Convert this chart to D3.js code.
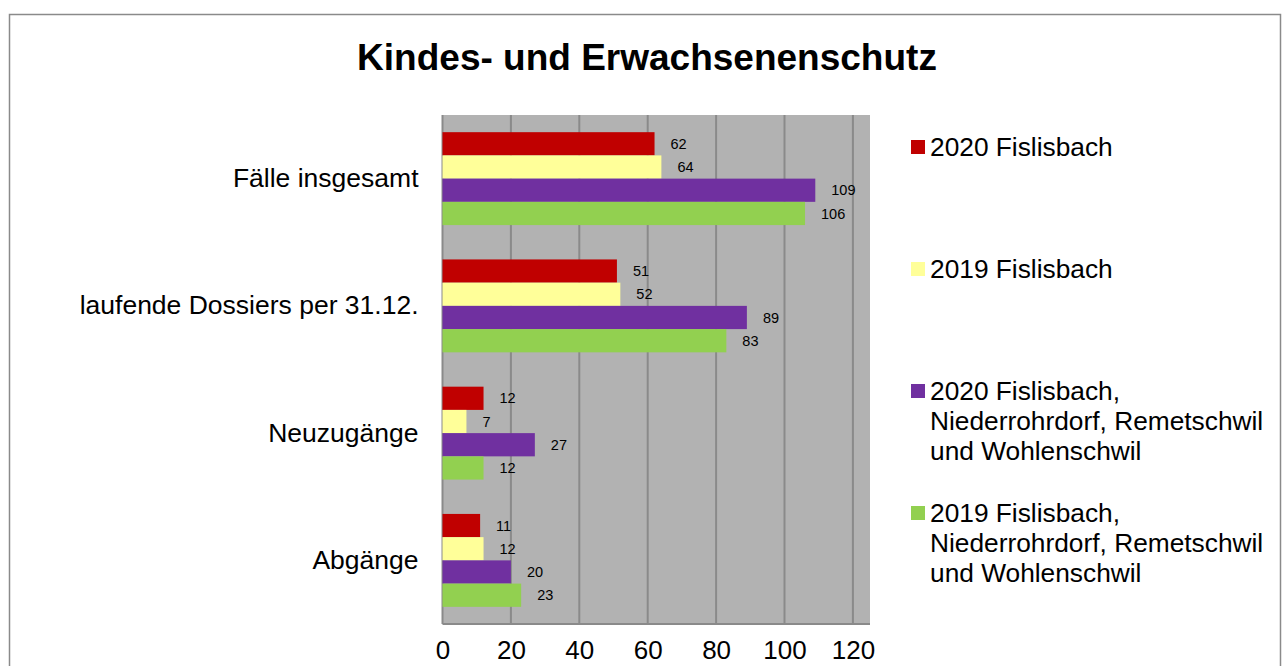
<!DOCTYPE html>
<html>
<head>
<meta charset="utf-8">
<script src="https://cdn.jsdelivr.net/npm/d3@7"></script>
<style>
  body { margin: 0; background: #fff; }
  text { font-family: Arial, "Liberation Sans", sans-serif; }
</style>
</head>
<body>
<div id="chart"></div>
<script>
// data
var categories = ["Fälle insgesamt", "laufende Dossiers per 31.12.", "Neuzugänge", "Abgänge"]
var seriesNames = ["2020 Fislisbach", "2019 Fislisbach",
  "2020 Fislisbach, Niederrohrdorf, Remetschwil und Wohlenschwil",
  "2019 Fislisbach, Niederrohrdorf, Remetschwil und Wohlenschwil"]
var legendLines = [["2020 Fislisbach"], ["2019 Fislisbach"],
  ["2020 Fislisbach,", "Niederrohrdorf, Remetschwil", "und Wohlenschwil"],
  ["2019 Fislisbach,", "Niederrohrdorf, Remetschwil", "und Wohlenschwil"]]
var fis2020 = [62, 51, 12, 11]
var fis2019 = [64, 52, 7, 12]
var all2020 = [109, 89, 27, 20]
var all2019 = [106, 83, 12, 23]
var xTicks = [0, 20, 40, 60, 80, 100, 120]
var colors = ["#c00000", "#ffff99", "#7030a0", "#92d050"]

var series = [fis2020, fis2019, all2020, all2019]

var W = 1284, H = 666
var margin = {top: 115, left: 442.5, right: 414, bottom: 42}
var width = W - margin.left - margin.right
var height = H - margin.top - margin.bottom

var svg = d3.select("#chart").append("svg")
  .attr("width", W).attr("height", H)

// outer frame
svg.append("rect")
  .attr("x", 9.5).attr("y", 14.5)
  .attr("width", 1271).attr("height", 700)
  .attr("fill", "none").attr("stroke", "#8a8a8a").attr("stroke-width", 1.5)

svg.append("text")
  .attr("x", 647).attr("y", 70)
  .attr("text-anchor", "middle")
  .attr("font-size", 37).attr("font-weight", "bold")
  .text("Kindes- und Erwachsenenschutz")

var g = svg.append("g")
  .attr("transform", "translate(" + margin.left + "," + margin.top + ")")

var x = d3.scaleLinear().domain([0, 125]).range([0, width])
var y = d3.scaleBand().domain(categories).range([0, height]).paddingInner(0.27).paddingOuter(0.135)
var ySub = d3.scaleBand().domain(d3.range(series.length)).range([0, y.bandwidth()])

g.append("rect")
  .attr("width", width).attr("height", height)
  .attr("fill", "#b2b2b2")

g.selectAll(".grid")
  .data(xTicks)
  .enter()
  .append("line")
  .attr("x1", function(d) { return x(d) })
  .attr("x2", function(d) { return x(d) })
  .attr("y1", 0).attr("y2", height)
  .attr("stroke", "#8a8a8a").attr("stroke-width", 2)

g.append("line")
  .attr("x1", 0).attr("x2", width)
  .attr("y1", height).attr("y2", height)
  .attr("stroke", "#8a8a8a").attr("stroke-width", 2)

// bars
series.forEach(function(vals, si) {
  var data = categories.map(function(c, i) { return {cat: c, value: vals[i]} })
  g.selectAll(".bar" + si)
    .data(data)
    .enter()
    .append("rect")
    .attr("x", x(0))
    .attr("y", function(d) { return y(d.cat) + ySub(si) })
    .attr("width", function(d) { return x(d.value) - x(0) })
    .attr("height", ySub.bandwidth())
    .attr("fill", colors[si])

  g.selectAll(".lab" + si)
    .data(data)
    .enter()
    .append("text")
    .attr("x", function(d) { return x(d.value) + 16 })
    .attr("y", function(d) { return y(d.cat) + ySub(si) + ySub.bandwidth() / 2 })
    .attr("dy", "0.35em")
    .attr("font-size", 14.5)
    .text(function(d) { return d.value })
})

// x axis
var xAxis = g.append("g")
  .attr("transform", "translate(0," + height + ")")
  .call(d3.axisBottom(x).tickValues(xTicks).tickSize(0).tickPadding(17))
xAxis.select(".domain").remove()
xAxis.selectAll("text")
  .attr("font-size", 26).attr("fill", "#000")
  .attr("font-family", "Arial, 'Liberation Sans', sans-serif")

// y axis
var yAxis = g.append("g")
  .call(d3.axisLeft(y).tickSize(0).tickPadding(24))
yAxis.select(".domain").remove()
yAxis.selectAll("text")
  .attr("font-size", 26.5).attr("fill", "#000")
  .attr("font-family", "Arial, 'Liberation Sans', sans-serif")

// legend
var legend = svg.append("g")
var legendY = [147, 269, 391, 513]
legendLines.forEach(function(lines, i) {
  var item = legend.append("g").attr("transform", "translate(911," + legendY[i] + ")")
  item.append("rect")
    .attr("x", 0).attr("y", -7)
    .attr("width", 14).attr("height", 14)
    .attr("fill", colors[i])
  item.selectAll("text")
    .data(lines)
    .enter()
    .append("text")
    .attr("x", 19)
    .attr("y", function(d, j) { return j * 30 })
    .attr("dy", "0.35em")
    .attr("font-size", 26.3)
    .text(function(d) { return d })
})
</script>
</body>
</html>
